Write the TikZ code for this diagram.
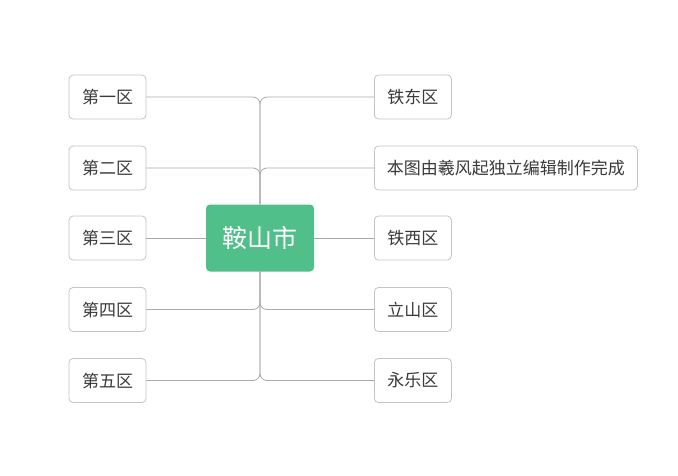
\documentclass[tikz,border=0pt]{standalone}
\usepackage{fontspec}
\setmainfont{Noto Sans CJK SC}
\usetikzlibrary{positioning}
\definecolor{rootgreen}{HTML}{50BF8A}
\definecolor{boxline}{HTML}{C4C4C4}
\definecolor{wire}{HTML}{ABABAB}
\definecolor{txt}{HTML}{3A3A3A}

\begin{document}
\begin{tikzpicture}[x=1pt,y=-1pt,
  root/.style={fill=rootgreen,rounded corners=4pt,text=white,minimum width=108pt,minimum height=67pt,font=\fontsize{25}{29}\selectfont},
  leaf/.style={draw=boxline,line width=0.8pt,rounded corners=4pt,fill=white,text=txt,minimum height=44pt,minimum width=77pt,inner xsep=12pt,font=\fontsize{17}{20}\selectfont},
  link/.style={draw=wire,line width=0.8pt,rounded corners=7pt}]
\useasboundingbox (0,0) rectangle (678,475);
\node[root] (anshan) at (260,238) {鞍山市};
% left side
\node[leaf] (L1) at (107.5,97) {第一区};
\node[leaf] (L2) at (107.5,168) {第二区};
\node[leaf] (L3) at (107.5,238) {第三区};
\node[leaf] (L4) at (107.5,309.5) {第四区};
\node[leaf] (L5) at (107.5,380.5) {第五区};
% right side
\node[leaf,anchor=west] (R1) at (374,97) {铁东区};
\node[leaf,anchor=west,minimum width=263pt] (R2) at (374,168) {本图由羲风起独立编辑制作完成};
\node[leaf,anchor=west] (R3) at (374,238) {铁西区};
\node[leaf,anchor=west] (R4) at (374,309.5) {立山区};
\node[leaf,anchor=west] (R5) at (374,380.5) {永乐区};
% branches
\draw[link] (anshan.north) |- (L1.east);
\draw[link] (anshan.north) |- (L2.east);
\draw[link] (anshan.west) -- (L3.east);
\draw[link] (anshan.south) |- (L4.east);
\draw[link] (anshan.south) |- (L5.east);
\draw[link] (anshan.north) |- (R1.west);
\draw[link] (anshan.north) |- (R2.west);
\draw[link] (anshan.east) -- (R3.west);
\draw[link] (anshan.south) |- (R4.west);
\draw[link] (anshan.south) |- (R5.west);
\end{tikzpicture}
\end{document}
